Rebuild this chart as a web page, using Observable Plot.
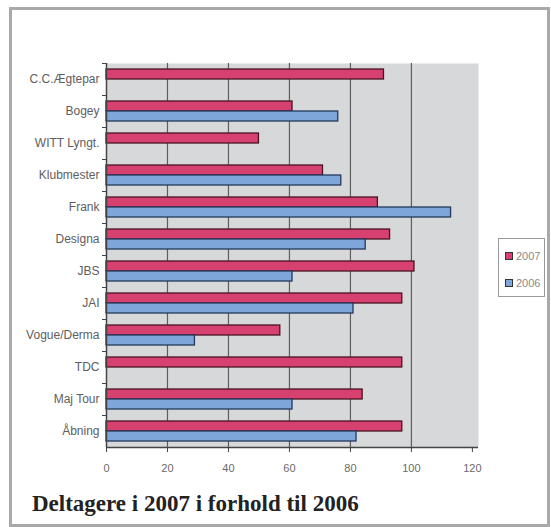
<!DOCTYPE html>
<html>
<head>
<meta charset="utf-8">
<script src="https://cdn.jsdelivr.net/npm/d3@7"></script>
<script src="https://cdn.jsdelivr.net/npm/@observablehq/plot@0.6"></script>
<style>
  html, body { margin: 0; padding: 0; background: #fff; }
  #wrap { position: relative; width: 551px; height: 527px; overflow: hidden; }
  #border { position: absolute; left: 9px; top: 7px; width: 535px; height: 514px; border: 3px solid #a9a9a9; }
  #chart { position: absolute; left: 0; top: 0; }
  #caption { position: absolute; left: 32px; top: 492px; line-height: 1; font-family: "Liberation Serif", "DejaVu Serif", serif; font-weight: bold; font-size: 23px; color: #222; white-space: nowrap; }
  #legend { position: absolute; left: 498px; top: 238px; width: 45px; height: 57px; border: 1px solid #9a9a9a; background: #fff; font-family: "Liberation Sans", Arial, sans-serif; font-size: 11px; color: #8a8a8a; }
  .item { position: absolute; left: 6px; display: flex; align-items: center; }
  .sw { width: 6px; height: 6px; margin-right: 3px; border: 1px solid #333; }
</style>
</head>
<body>
<div id="wrap">
  <div id="border"></div>
  <div id="chart"></div>
  <div id="legend"></div>
  <div id="caption"></div>
</div>
<script>
const categories = ["C.C.Ægtepar", "Bogey", "WITT Lyngt.", "Klubmester", "Frank", "Designa", "JBS", "JAI", "Vogue/Derma", "TDC", "Maj Tour", "Åbning"];
const values2007 = [91, 61, 50, 71, 89, 93, 101, 97, 57, 97, 84, 97];
const values2006 = [0, 76, 0, 77, 113, 85, 61, 81, 29, 0, 61, 82];
const xTicks = [0, 20, 40, 60, 80, 100, 120];
const gridTicks = [20, 40, 60, 80, 100];
const seriesNames = ["2007", "2006"];
const seriesColors = ["#d6416f", "#7ea6da"];
const seriesStrokes = ["#4a1324", "#24385e"];
const captionText = "Deltagere i 2007 i forhold til 2006";

const rows2007 = categories.map((c, i) => ({category: c, value: values2007[i]}));
const rows2006 = categories.map((c, i) => ({category: c, value: values2006[i]}));

const font = "'Liberation Sans', Arial, sans-serif";

const chart = Plot.plot({
  width: 551,
  height: 480,
  marginLeft: 106,
  marginRight: 73,
  marginTop: 63,
  marginBottom: 33,
  style: {background: "transparent", fontFamily: font, fontSize: "11px", color: "#6a6a6a"},
  x: {domain: [0, 122], ticks: xTicks, label: null},
  y: {domain: categories, padding: 0, label: null},
  marks: [
    Plot.frame({fill: "#d7d8d9", stroke: "none"}),
    Plot.ruleX(gridTicks, {stroke: "#5e5e5e", strokeWidth: 1.2}),
    Plot.barX(rows2007, {x: "value", y: "category", fill: seriesColors[0], stroke: seriesStrokes[0], strokeWidth: 1.3, insetTop: 11, insetBottom: 11, dy: -5}),
    Plot.barX(rows2006, {x: "value", y: "category", fill: seriesColors[1], stroke: seriesStrokes[1], strokeWidth: 1.3, insetTop: 11, insetBottom: 11, dy: 5}),
    Plot.ruleX([0], {stroke: "#444", strokeWidth: 1.5}),
    Plot.ruleY([categories[categories.length - 1]], {dy: 16, stroke: "#444", strokeWidth: 1.5}),
    Plot.axisX({ticks: xTicks, tickSize: 5, tickPadding: 12, stroke: "#444", fill: "#6a6a6a", fontSize: 11}),
    Plot.axisY({tickSize: 4, text: null, dy: -16, stroke: "#444"}),
    Plot.axisY({tickSize: 0, tickPadding: 7, fill: "#5e5e5e", fontSize: 12})
  ]
});
document.getElementById("chart").appendChild(chart);

document.getElementById("caption").textContent = captionText;

const legend = document.getElementById("legend");
seriesNames.forEach((name, i) => {
  const item = document.createElement("div");
  item.className = "item";
  item.style.top = (11 + i * 27) + "px";
  const sw = document.createElement("span");
  sw.className = "sw";
  sw.style.background = seriesColors[i];
  const t = document.createElement("span");
  t.textContent = name;
  item.appendChild(sw);
  item.appendChild(t);
  legend.appendChild(item);
});
</script>
</body>
</html>
